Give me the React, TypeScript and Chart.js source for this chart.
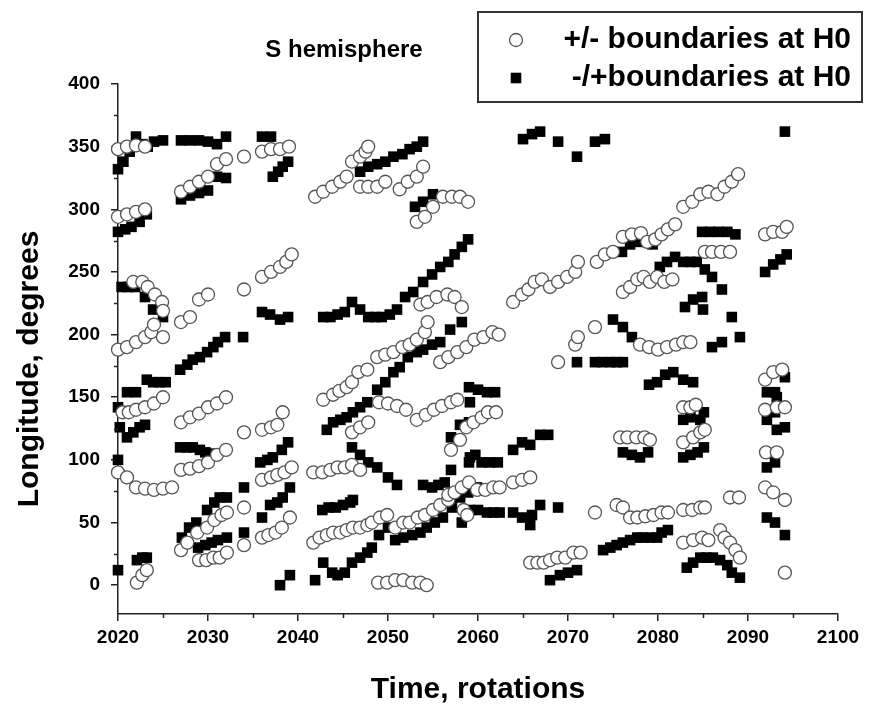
import React, { useEffect, useRef } from 'react';
import { Chart, registerables } from 'chart.js';

Chart.register(...registerables);

const chartTitle = 'S hemisphere';
const xTitle = 'Time, rotations';
const yTitle = 'Longitude, degrees';
const legendLabels = ['+/- boundaries at H0', '-/+boundaries at H0'];
const xRange = [2020, 2100];
const yRange = [-23, 400];
const xMinorTicks = [2025, 2035, 2045, 2055, 2065, 2075, 2085, 2095];
const yMinorTicks = [25, 75, 125, 175, 225, 275, 325, 375];

// "+/-" boundaries (open circles): [rotation, longitude]
const openA = [
  [2020, 348], [2021, 350], [2022, 351], [2023, 350],
  [2027, 314], [2028, 318], [2029, 322], [2030, 326], [2031, 336], [2032, 340],
  [2034, 342], [2036, 346], [2037, 348], [2038, 348], [2039, 350],
  [2020, 294], [2021, 296], [2022, 298], [2023, 300],
  [2021.7, 242], [2022.7, 242], [2023.3, 238], [2024.1, 232], [2024.9, 226], [2025, 219],
  [2020, 188], [2021, 190], [2022, 194], [2023, 198], [2023.7, 202], [2024, 208], [2025, 198],
  [2027, 210], [2028, 214], [2029, 228], [2030, 232], [2034, 236], [2036, 246], [2037, 250], [2038, 254], [2038.7, 258], [2039.3, 264],
  [2020.5, 138], [2021.2, 138], [2022, 140], [2023, 142], [2024, 145], [2025, 150],
  [2020, 90], [2021, 86], [2022, 78], [2023, 77], [2024, 76], [2025, 77], [2026, 78],
  [2022.1, 2], [2022.7, 8], [2023.2, 12],
  [2027, 130], [2028, 134], [2029, 137], [2030, 142], [2031, 145], [2032, 150],
  [2027, 92], [2028, 93], [2029, 95], [2030, 98], [2031, 104], [2032, 108],
  [2027, 28], [2027.7, 34], [2028.8, 42], [2029.9, 46], [2030.7, 52], [2031.5, 56], [2032.1, 58],
  [2029, 20], [2029.8, 20], [2030.6, 22], [2031.3, 22], [2032.1, 26],
  [2034, 122], [2036, 124], [2037, 126], [2037.7, 128], [2038.3, 138],
  [2034, 62], [2034, 32],
  [2036, 84], [2037, 86], [2037.7, 88], [2038.5, 90], [2039.3, 94],
  [2036, 38], [2036.7, 40], [2037.5, 42], [2038.2, 46], [2039.1, 54],
];
const openB = [
  [2041.9, 310], [2042.8, 314], [2043.8, 318], [2044.7, 322], [2045.4, 326],
  [2046, 338], [2046.9, 342], [2047.5, 346], [2047.8, 350],
  [2046.9, 318], [2047.8, 318], [2048.8, 318], [2049.7, 322],
  [2051.3, 316], [2052.2, 322], [2053.2, 326], [2053.9, 334],
  [2053.2, 290], [2054.1, 294], [2055, 302], [2056.1, 310], [2057.1, 310], [2058, 310], [2058.9, 306],
  [2042.8, 148], [2043.9, 152], [2044.6, 155], [2045.4, 158], [2046, 162], [2046.7, 170], [2047.7, 172],
  [2046, 122], [2046.9, 126], [2047.8, 130],
  [2049, 146], [2050, 145], [2051, 143], [2052, 140],
  [2053.2, 132], [2054.2, 136], [2055.1, 140], [2056, 143], [2057, 146], [2057.7, 148],
  [2041.7, 90], [2042.7, 90], [2043.6, 92], [2044.4, 94], [2045.2, 94], [2046, 96], [2046.9, 92],
  [2041.7, 34], [2042.4, 38], [2043.2, 40], [2043.9, 42], [2044.7, 42], [2045.4, 44], [2046.1, 46], [2046.9, 46], [2047.7, 48], [2048.2, 50], [2049.1, 54], [2049.9, 56],
  [2050.8, 46], [2051.7, 50], [2052.4, 50], [2053.3, 54], [2054.1, 56], [2055, 60], [2055.8, 64], [2056.7, 68],
  [2048.9, 2], [2049.9, 2], [2050.8, 4], [2051.7, 4], [2052.7, 2], [2053.6, 2], [2054.3, 0],
  [2053.6, 224], [2054.4, 226], [2055.4, 230], [2056.6, 232], [2057.4, 230], [2058.2, 222],
  [2048.8, 182], [2049.7, 184], [2050.6, 186], [2051.6, 190], [2052.4, 192], [2053.2, 196], [2054.1, 202], [2054.4, 210],
  [2055.8, 178], [2056.7, 182], [2057.7, 186], [2058.7, 190], [2059.6, 196],
  [2057, 108], [2058, 116], [2058.7, 126], [2059.5, 130],
  [2056.7, 72], [2057.4, 74], [2058.2, 78], [2059, 82],
  [2058.4, 60], [2058.8, 56],
];
const openC = [
  [2060.6, 198], [2061.6, 202], [2062.3, 200],
  [2060.4, 134], [2061.1, 138], [2062, 138],
  [2059.9, 76], [2060.8, 76], [2061.7, 78], [2062.4, 78],
  [2063.9, 82], [2064.9, 84], [2065.8, 86],
  [2063.9, 226], [2064.9, 232], [2065.6, 236], [2066.3, 242], [2067.1, 244], [2068, 238], [2068.9, 242], [2069.9, 246], [2070.8, 250], [2071.1, 258], [2073.2, 258], [2074.1, 264], [2075, 266],
  [2076.1, 278], [2077.1, 280], [2078.1, 281], [2078.8, 274], [2079.7, 276],
  [2076.1, 234], [2076.9, 238], [2077.7, 244], [2078.4, 246], [2079.1, 242], [2079.9, 246],
  [2078, 192], [2079, 190],
  [2068.9, 178], [2070.8, 192], [2071.1, 198], [2073, 206],
  [2065.8, 18], [2066.6, 18], [2067.3, 18], [2068, 20], [2068.8, 22], [2069.7, 22], [2070.6, 26], [2071.4, 26],
  [2073, 58], [2075.4, 64], [2076.1, 62], [2076.9, 54], [2077.7, 54], [2078.6, 55], [2079.5, 56],
  [2075.8, 118], [2076.6, 118], [2077.6, 118], [2078.5, 118], [2079.1, 116],
];
const openD = [
  [2080.4, 280], [2081.1, 284], [2081.9, 288], [2082.8, 302], [2083.8, 306], [2084.7, 312], [2085.6, 314], [2086.6, 312], [2087.4, 318], [2088.2, 322], [2088.9, 328],
  [2085.2, 266], [2086, 266], [2087, 266], [2088, 266],
  [2080.7, 242], [2081.6, 244],
  [2080, 188], [2081, 190], [2082, 192], [2082.8, 194], [2083.6, 194],
  [2080.4, 58], [2081.1, 58], [2082.8, 60], [2083.8, 60], [2084.7, 62], [2085.2, 62],
  [2082.8, 114], [2083.9, 118], [2084.7, 122], [2085.2, 124],
  [2082.8, 142], [2083.6, 142], [2084.2, 144],
  [2088, 70], [2089, 70],
  [2082.8, 34], [2083.9, 36], [2084.9, 38], [2085.6, 36],
  [2086.9, 44], [2087.4, 38], [2088, 34], [2088.6, 28], [2089.1, 22],
  [2091.9, 164], [2092.8, 170], [2093.8, 172],
  [2091.9, 140], [2093.2, 142], [2094.1, 142],
  [2092, 106], [2093.2, 106],
  [2091.9, 78], [2092.8, 74], [2094.1, 68], [2094.1, 10],
  [2091.9, 280], [2092.8, 282], [2093.8, 282], [2094.3, 286],
];

// "-/+" boundaries (filled squares): [rotation, longitude]
const filledA = [
  [2020, 332], [2020.6, 338], [2021.3, 346], [2022, 358], [2022.7, 352], [2023.3, 350], [2024, 354], [2025, 355],
  [2027, 355], [2028, 355], [2029, 355], [2030, 354], [2031, 352], [2032, 358],
  [2027, 308], [2028, 311], [2029, 313], [2030, 315], [2031, 326], [2032, 325],
  [2036, 358], [2037, 358], [2037.2, 326], [2037.8, 330], [2038.3, 334], [2038.9, 338],
  [2020, 282], [2020.8, 284], [2021.5, 286], [2022.4, 290], [2023.2, 296],
  [2020.4, 238], [2021.1, 238], [2021.9, 238], [2023, 230], [2023.9, 220], [2025, 214],
  [2021, 154], [2022, 154], [2023.2, 164], [2023.9, 162], [2024.6, 162], [2025.3, 162],
  [2026.9, 172], [2027.7, 176], [2028.3, 180], [2029.1, 182], [2029.9, 186], [2030.6, 190], [2031.1, 194], [2031.9, 198], [2033.9, 198],
  [2036, 218], [2036.9, 216], [2038, 212], [2038.9, 214],
  [2020, 142], [2020.2, 126], [2021, 118], [2021.7, 122], [2022.4, 126], [2023, 128], [2020, 100], [2020, 12],
  [2022.1, 20], [2022.7, 22], [2023.2, 22],
  [2026.9, 110], [2027.7, 110], [2028.3, 110], [2029.1, 108], [2029.7, 106], [2030.2, 105],
  [2027.1, 38], [2027.9, 46], [2028.7, 50], [2029.9, 60], [2030.7, 66], [2031.3, 70], [2032.1, 70],
  [2028.9, 30], [2029.7, 32], [2030.4, 34], [2031.1, 36], [2032.1, 38],
  [2034, 78], [2034, 42], [2036, 54], [2036.9, 64], [2037.7, 66], [2038.3, 70], [2039.1, 78],
  [2035.8, 98], [2036.6, 100], [2037.2, 102], [2038.2, 108], [2038.9, 114],
  [2038, 0], [2039.1, 8],
];
const filledB = [
  [2042.8, 214], [2043.6, 214], [2044.4, 216], [2045.2, 218], [2046, 226], [2046.9, 220], [2047.8, 214], [2048.6, 214], [2049.3, 214], [2050.2, 216], [2051, 220], [2051.9, 230], [2052.8, 234], [2053.9, 242], [2054.9, 248], [2055.8, 254], [2056.7, 258], [2057.4, 264], [2058.2, 270], [2058.9, 276],
  [2046.9, 330], [2047.8, 334], [2048.8, 336], [2049.7, 338], [2050.6, 342], [2051.6, 344], [2052.4, 348], [2053.2, 350], [2053.9, 354],
  [2053, 302], [2053.9, 306], [2055, 312],
  [2043.2, 124], [2043.9, 130], [2044.7, 132], [2045.4, 134], [2046.1, 138], [2046.9, 142], [2047.7, 146], [2048.8, 156], [2049.7, 162], [2050.6, 170], [2051.3, 174], [2052.2, 182], [2053.2, 186], [2053.9, 188], [2054.9, 192], [2055.8, 194],
  [2056.9, 204], [2058.2, 210],
  [2046, 110], [2046.9, 104], [2047.8, 98], [2048.8, 94], [2050, 86], [2051, 80],
  [2053.9, 80], [2054.9, 78], [2055.6, 80], [2056.3, 82],
  [2050.8, 36], [2051.7, 38], [2052.7, 40], [2053.6, 42], [2054.3, 46], [2055.2, 50], [2056.1, 54], [2057.1, 62], [2058, 70], [2058.9, 74], [2059.9, 78],
  [2042.7, 60], [2043.4, 62], [2044.2, 62], [2045, 64], [2045.8, 66], [2046.1, 68],
  [2049, 40], [2050, 46],
  [2041.9, 4], [2042.8, 18], [2043.8, 10], [2044.4, 8], [2045.2, 10], [2046, 18], [2046.9, 22], [2047.7, 26], [2048.2, 30],
  [2057, 118], [2058, 128], [2059, 130], [2057, 92], [2059, 98], [2059.1, 146], [2059, 158],
];
const filledC = [
  [2059.1, 102], [2059.7, 104], [2060.4, 98], [2061.3, 98], [2062.2, 98],
  [2060, 156], [2061, 154], [2061.9, 154],
  [2063.9, 108], [2064.9, 114], [2065.8, 112], [2066.9, 120], [2067.8, 120],
  [2059.1, 60], [2060, 60], [2061, 58], [2061.7, 58], [2062.4, 58], [2058, 72], [2058.2, 50],
  [2063.9, 58], [2064.9, 54], [2065.8, 48], [2066, 56], [2066.9, 64], [2068.9, 62],
  [2068, 4], [2069.1, 8], [2070, 10], [2071, 12],
  [2065, 356], [2066, 360], [2066.9, 362], [2068.9, 354], [2071, 342], [2073, 354], [2074.1, 356],
  [2071, 178], [2073, 178], [2073.8, 178], [2074.7, 178], [2075.4, 178], [2076.1, 178],
  [2075, 212], [2076.1, 206], [2077.1, 198],
  [2076, 266], [2076.9, 272], [2077.8, 274], [2078.8, 274], [2079.4, 272],
  [2079, 160], [2079.9, 162],
  [2073.9, 28], [2074.7, 30], [2075.4, 32], [2076.1, 34], [2076.9, 36], [2077.7, 38], [2078.3, 38], [2079.1, 38], [2079.9, 38],
  [2076.1, 106], [2077.1, 104], [2078, 102], [2078.9, 106],
];
const filledD = [
  [2080.8, 168], [2081.7, 170], [2082.8, 164], [2083.9, 162],
  [2080.4, 42], [2081.1, 44],
  [2082.8, 102], [2083.6, 104], [2084.4, 106], [2085.1, 110],
  [2082.8, 132], [2083.6, 134], [2084.7, 132], [2085.1, 138],
  [2080.2, 254], [2081, 258], [2081.9, 262], [2082.8, 258], [2083.6, 258], [2084.3, 258], [2085.2, 252], [2086, 246], [2087.1, 236], [2088.2, 214], [2089.1, 198],
  [2084.9, 282], [2085.8, 282], [2086.7, 282], [2087.7, 282], [2088.6, 280],
  [2083, 222], [2083.9, 228], [2084.9, 230], [2085, 220],
  [2086, 190], [2087.1, 194],
  [2083.2, 14], [2083.9, 18], [2084.7, 22], [2085.4, 22], [2086.1, 22], [2086.9, 20], [2087.7, 16], [2088.2, 10], [2089.1, 6],
  [2091.9, 250], [2092.8, 256], [2093.6, 260], [2094.3, 264], [2094.1, 362],
  [2092.1, 154], [2093, 154], [2093.2, 150], [2094.1, 166],
  [2092.1, 132], [2093, 138], [2093.2, 124], [2094.1, 126],
  [2092.1, 94], [2093, 98],
  [2092.1, 54], [2093, 50], [2094.1, 40],
];

const FONT = '"Liberation Sans", Arial, Helvetica, sans-serif';
const CIRCLE_R = 6.5;
const CIRCLE_STROKE = '#555';
const SQUARE_R = 7.5;

const toPts = (arr: number[][]) => arr.map(([x, y]) => ({ x, y }));

const decorPlugin = {
  id: 'decor',
  afterDraw(chart: any) {
    const { ctx, chartArea, scales } = chart;
    const xs = scales.x;
    const ys = scales.y;
    ctx.save();
    // minor ticks
    ctx.strokeStyle = '#222';
    ctx.lineWidth = 1.5;
    for (const v of xMinorTicks) {
      const px = Math.round(xs.getPixelForValue(v)) + 0.5;
      ctx.beginPath();
      ctx.moveTo(px, chartArea.bottom);
      ctx.lineTo(px, chartArea.bottom + 4);
      ctx.stroke();
    }
    for (const v of yMinorTicks) {
      const py = Math.round(ys.getPixelForValue(v)) + 0.5;
      ctx.beginPath();
      ctx.moveTo(chartArea.left, py);
      ctx.lineTo(chartArea.left - 4, py);
      ctx.stroke();
    }
    // chart title
    ctx.fillStyle = '#000';
    ctx.textAlign = 'center';
    ctx.textBaseline = 'middle';
    ctx.font = `bold 24px ${FONT}`;
    ctx.fillText(chartTitle, 344, 50);
    // axis titles
    ctx.font = `bold 30px ${FONT}`;
    ctx.fillText(xTitle, (chartArea.left + chartArea.right) / 2, 690);
    ctx.save();
    ctx.translate(30, 369);
    ctx.rotate(-Math.PI / 2);
    ctx.fillText(yTitle, 0, 0);
    ctx.restore();
    // legend box
    ctx.strokeStyle = '#333';
    ctx.lineWidth = 2;
    ctx.strokeRect(478, 12, 384, 90);
    // legend markers
    ctx.beginPath();
    ctx.arc(516, 40, CIRCLE_R, 0, Math.PI * 2);
    ctx.fillStyle = '#fff';
    ctx.fill();
    ctx.lineWidth = 1.3;
    ctx.strokeStyle = CIRCLE_STROKE;
    ctx.stroke();
    const s = SQUARE_R * Math.SQRT1_2;
    ctx.fillStyle = '#000';
    ctx.fillRect(516 - s, 78 - s, 2 * s, 2 * s);
    // legend texts
    ctx.font = `bold 30px ${FONT}`;
    ctx.textAlign = 'right';
    ctx.fillText(legendLabels[0], 851, 40);
    ctx.fillText(legendLabels[1], 851, 78);
    ctx.restore();
  },
};

export default function App() {
  const ref = useRef<HTMLCanvasElement | null>(null);
  useEffect(() => {
    if (!ref.current) return;
    const tickFont = { family: FONT, size: 19, weight: 'bold' as const };
    const chart = new Chart(ref.current, {
      type: 'scatter',
      data: {
        datasets: [
          {
            label: legendLabels[0],
            data: toPts([...openA, ...openB, ...openC, ...openD]),
            pointStyle: 'circle',
            pointRadius: CIRCLE_R,
            pointBorderWidth: 1.3,
            pointBorderColor: CIRCLE_STROKE,
            pointBackgroundColor: '#fff',
            clip: false,
          },
          {
            label: legendLabels[1],
            data: toPts([...filledA, ...filledB, ...filledC, ...filledD]),
            pointStyle: 'rect',
            pointRadius: SQUARE_R,
            pointBorderWidth: 0,
            pointBackgroundColor: '#000',
            pointBorderColor: '#000',
            clip: false,
          },
        ],
      },
      options: {
        responsive: false,
        animation: false,
        devicePixelRatio: 1,
        layout: { padding: { left: 0, top: 84, right: 34, bottom: 0 } },
        plugins: { legend: { display: false }, tooltip: { enabled: false }, title: { display: false } },
        scales: {
          x: {
            type: 'linear',
            position: 'bottom',
            min: xRange[0],
            max: xRange[1],
            ticks: { stepSize: 10, font: tickFont, color: '#000', padding: 5, callback: (v: any) => String(v) },
            grid: { drawOnChartArea: false, drawTicks: true, tickLength: 7, color: '#222', lineWidth: 1.5 },
            border: { display: true, color: '#222', width: 1.5 },
            afterFit: (s: any) => { s.height = 99; },
          },
          y: {
            type: 'linear',
            min: yRange[0],
            max: yRange[1],
            ticks: { stepSize: 50, includeBounds: false, font: tickFont, color: '#000', padding: 11, callback: (v: any) => String(v) },
            grid: { drawOnChartArea: false, drawTicks: true, tickLength: 7, color: '#222', lineWidth: 1.5 },
            border: { display: true, color: '#222', width: 1.5 },
            afterFit: (s: any) => { s.width = 118; },
          },
        },
      },
      plugins: [decorPlugin],
    });
    return () => chart.destroy();
  }, []);
  return (
    <div style={{ position: 'fixed', left: 0, top: 0, width: 872, height: 713, background: '#fff' }}>
      <canvas ref={ref} width={872} height={713} style={{ display: 'block', width: 872, height: 713 }} />
    </div>
  );
}
